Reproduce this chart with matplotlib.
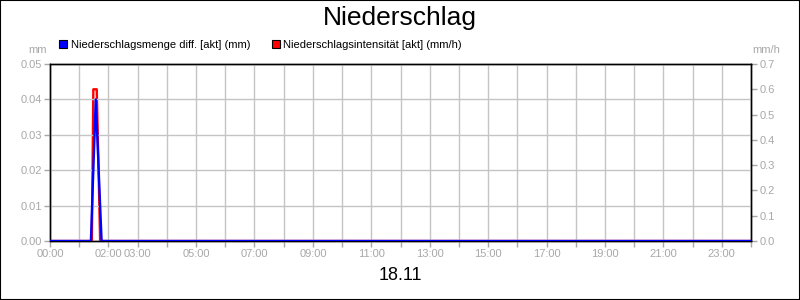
import matplotlib
matplotlib.use("Agg")
import matplotlib.pyplot as plt
from matplotlib.patches import Patch, Rectangle

plt.rcParams['font.family'] = ['Liberation Sans', 'DejaVu Sans']

# data: time in minutes after midnight
menge_t = [0, 84, 94, 106, 1440]
menge_v = [0.0, 0.0, 0.04, 0.0, 0.0]          # mm
intens_t = [0, 86, 89, 96, 103, 1440]
intens_v = [0.0, 0.0, 0.6, 0.6, 0.0, 0.0]     # mm/h

hour_labels = ['00:00', '', '02:00', '03:00', '', '05:00', '', '07:00', '', '09:00',
               '', '11:00', '', '13:00', '', '15:00', '', '17:00', '', '19:00',
               '', '21:00', '', '23:00', '']
left_ticks = [0.00, 0.01, 0.02, 0.03, 0.04, 0.05]
right_ticks = [0.0, 0.1, 0.2, 0.3, 0.4, 0.5, 0.6, 0.7]

gray = '#a8a8a8'
gridc = '#c4c4c4'

fig = plt.figure(figsize=(8, 3), dpi=100)
ax = fig.add_axes([50/800, 59/300, 701/800, 177/300])
ax2 = ax.twinx()

th = [t / 60 for t in menge_t]
ax.plot(th, menge_v, color='#0000ff', lw=1.7, zorder=5)
ti = [t / 60 for t in intens_t]
ax2.plot(ti, intens_v, color='#ff0000', lw=1.7)

ax.set_zorder(ax2.get_zorder() + 1)
ax.patch.set_visible(False)

ax.set_xlim(0, 24)
ax.set_ylim(0, 0.05)
ax2.set_ylim(0, 0.7)
ax.set_xticks(range(25))
ax.set_xticklabels(hour_labels)
ax.set_yticks(left_ticks)
ax.set_yticklabels(['%.2f' % v for v in left_ticks])
ax2.set_yticks(right_ticks)
ax2.set_yticklabels(['%.1f' % v for v in right_ticks])

ax.grid(True, color=gridc, lw=1.0)
ax.set_axisbelow(True)
for a in (ax, ax2):
    a.tick_params(colors=gray, labelsize=8, length=4, width=1, pad=2)
    for s in a.spines.values():
        s.set_color('black')
        s.set_linewidth(1.0)

ax.text(-0.005, 1.08, 'mm', transform=ax.transAxes, ha='right', va='center',
        color=gray, fontsize=8)
ax.text(1.002, 1.08, 'mm/h', transform=ax.transAxes, ha='left', va='center',
        color=gray, fontsize=8)

fig.text(0.5, 0.94, 'Niederschlag', ha='center', va='center', fontsize=19)
fig.text(0.5, 0.083, '18.11', ha='center', va='center', fontsize=13)

handles = [Patch(facecolor='#0000ff', edgecolor='black', lw=0.8),
           Patch(facecolor='#ff0000', edgecolor='black', lw=0.8)]
fig.legend(handles, ['Niederschlagsmenge diff. [akt] (mm)',
                     'Niederschlagsintensität [akt] (mm/h)'],
           loc='center left', bbox_to_anchor=(55/800, 1 - 45/300), ncol=2,
           frameon=False, fontsize=8, handlelength=0.7, handleheight=0.7,
           handletextpad=0.35, columnspacing=1.9, borderaxespad=0)

fig.patches.append(Rectangle((0, 0), 1, 1, transform=fig.transFigure,
                             fill=False, edgecolor='black', lw=1.5))

fig.savefig('out.png', dpi=100)
